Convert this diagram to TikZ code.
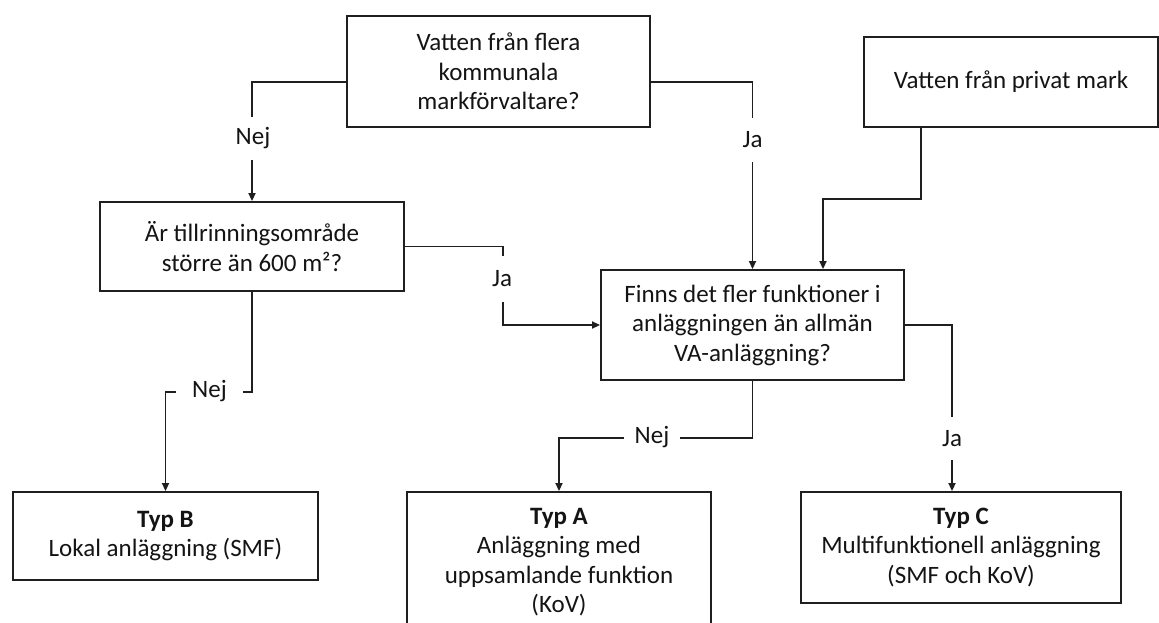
\documentclass[tikz,border=0pt]{standalone}
\usepackage{fontspec}
\setmainfont{Carlito}
\usetikzlibrary{arrows.meta}
\begin{document}
\begin{tikzpicture}[x=1pt,y=-1pt,
  box/.style={draw=black!88, line width=1.9pt, align=center, inner sep=0pt,
    font=\fontsize{25}{29.5}\selectfont, text=black!92},
  conn/.style={draw=black!88, line width=1.8pt},
  arr/.style={conn, -{Triangle[length=8pt,width=7pt]}},
  lbl/.style={fill=white, inner sep=0pt, font=\fontsize{25}{29.5}\selectfont, text=black!92}]
\useasboundingbox (0,0) rectangle (1159,622);
\fill[white] (0,0) rectangle (1159,622);

% boxes
\node[box, minimum width=303pt, minimum height=111pt] (T1) at (498.5,71.5)
  {Vatten från flera\\kommunala\\markförvaltare?};
\node[box, minimum width=294pt, minimum height=90pt] (T2) at (1011,82)
  {Vatten från privat mark};
\node[box, minimum width=304pt, minimum height=89pt] (L) at (252,246.5)
  {Är tillrinningsområde\\större än 600 m²?};
\node[box, minimum width=303pt, minimum height=110pt] (M) at (752.5,325)
  {Finns det fler funktioner i\\anläggningen än allmän\\VA-anläggning?};
\node[box, minimum width=305pt, minimum height=88pt] (B) at (165.5,536)
  {\textbf{Typ B}\\Lokal anläggning (SMF)};
\node[box, minimum width=304pt, minimum height=140pt] (A) at (559,562)
  {\textbf{Typ A}\\Anläggning med\\uppsamlande funktion\\(KoV)};
\node[box, minimum width=320pt, minimum height=111pt] (C) at (961,547.5)
  {\textbf{Typ C}\\Multifunktionell anläggning\\(SMF och KoV)};

% connectors
\draw[arr] ([yshift=-10.5pt]T1.west) -| (L.north);
\draw[arr] ([yshift=-10.5pt]T1.east) -| (M.north);
\draw[arr] ([xshift=-90pt]T2.south) -- ++(0,71) -| ([xshift=70.5pt]M.north);
\draw[arr] (L.east) -- ++(98,0) |- (M.west);
\draw[arr] (L.south) -- ++(0,100) -| (B.north);
\draw[arr] (M.south) -- ++(0,57) -| (A.north);
\draw[arr] (M.east) -| ([xshift=-9pt]C.north);

% labels
\node[lbl, minimum height=43pt] (n1) at (253,138.5) {Nej};
\node[lbl, minimum height=44pt] (j1) at (752.5,140) {Ja};
\node[lbl, minimum height=46pt] (j2) at (502,279) {Ja};
\node[lbl, minimum width=67pt] (n2) at (209.5,391) {Nej};
\node[lbl, minimum width=56pt] (n3) at (652,437) {Nej};
\node[lbl, minimum height=43pt] (j3) at (952,438.5) {Ja};
\end{tikzpicture}
\end{document}
